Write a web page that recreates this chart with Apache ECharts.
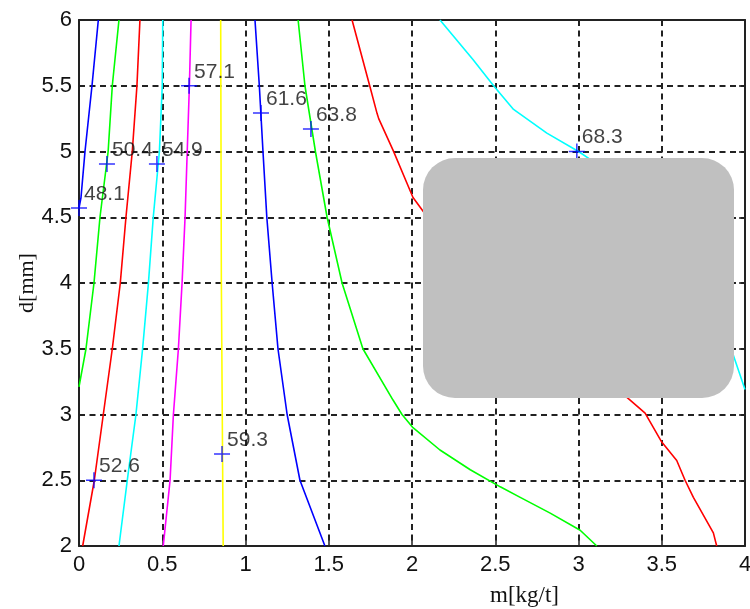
<!DOCTYPE html>
<html>
<head>
<meta charset="utf-8">
<script src="https://cdn.jsdelivr.net/npm/echarts@6/dist/echarts.min.js"></script>
<style>
  html, body { margin: 0; padding: 0; background: #ffffff; overflow: hidden; }
  #chart { width: 750px; height: 609px; }
</style>
</head>
<body>
<div id="chart"></div>
<script>
// Axis ranges and tick steps
const xRange = [0, 4];
const yRange = [2, 6];
const xStep = 0.5;
const yStep = 0.5;

// Contour levels, in drawing order
const levels = [48.1, 50.4, 52.6, 54.9, 57.1, 59.3, 61.6, 63.8, 66.0, 68.3];
const levelColors = ['#0000ff', '#00ff00', '#ff0000', '#00ffff', '#ff00ff', '#ffff00',
                     '#0000ff', '#00ff00', '#ff0000', '#00ffff'];

// Contour paths: [m, d] pairs for each level
const c48_1 = [[0.116, 6], [0.078, 5.5], [0.036, 5], [0.012, 4.65], [0, 4.57]];
const c50_4 = [[0.24, 6], [0.2, 5.5], [0.175, 5], [0.126, 4.5], [0.09, 4], [0.042, 3.5], [0, 3.21]];
const c52_6 = [[0.366, 6], [0.348, 5.5], [0.32, 5], [0.282, 4.5], [0.248, 4], [0.2, 3.5],
               [0.146, 3], [0.092, 2.5], [0.022, 2]];
const c54_9 = [[0.503, 6], [0.5, 5.5], [0.483, 5], [0.446, 4.5], [0.417, 4], [0.382, 3.5],
               [0.342, 3], [0.29, 2.5], [0.24, 2]];
const c57_1 = [[0.673, 6], [0.663, 5.5], [0.65, 5], [0.637, 4.5], [0.619, 4], [0.597, 3.5],
               [0.567, 3], [0.547, 2.5], [0.506, 2]];
const c59_3 = [[0.851, 6], [0.855, 4], [0.866, 2]];
const c61_6 = [[1.057, 6], [1.083, 5.5], [1.105, 5], [1.128, 4.5], [1.16, 4], [1.195, 3.5],
               [1.25, 3], [1.327, 2.5], [1.477, 2]];
const c63_8 = [[1.316, 6], [1.357, 5.5], [1.42, 5], [1.49, 4.5], [1.58, 4], [1.705, 3.5],
               [1.886, 3.11], [1.94, 3], [2.006, 2.9], [2.168, 2.73], [2.35, 2.58], [2.53, 2.45],
               [2.65, 2.37], [2.83, 2.25], [3.01, 2.12], [3.11, 2]];
const c66_0 = [[1.64, 6], [1.748, 5.49], [1.79, 5.29], [1.8, 5.25], [1.886, 5.01], [2.006, 4.65],
               [2.07, 4.54], [2.5, 4.0], [2.95, 3.5], [3.31, 3.11], [3.4, 3.01], [3.5, 2.79],
               [3.59, 2.65], [3.64, 2.5], [3.69, 2.37], [3.81, 2.1], [3.83, 2]];
const c68_3 = [[2.168, 6], [2.366, 5.7], [2.49, 5.5], [2.61, 5.32], [2.81, 5.14], [3.0, 5.0],
               [3.07, 4.94], [3.5, 4.3], [3.8, 3.75], [3.93, 3.45], [4.0, 3.19]];
const contours = [c48_1, c50_4, c52_6, c54_9, c57_1, c59_3, c61_6, c63_8, c66_0, c68_3];

// Inline label anchors (index into levels, m, d)
const labelLevel = [0, 1, 2, 3, 4, 5, 6, 7, 9];
const labelM = [0.0, 0.168, 0.09, 0.468, 0.661, 0.859, 1.093, 1.393, 2.99];
const labelD = [4.57, 4.905, 2.5, 4.905, 5.5, 2.70, 5.293, 5.171, 5.0];

const FONT = 'Liberation Sans, Arial, Helvetica, sans-serif';
const SERIF = 'Liberation Serif, Times New Roman, serif';
const INK = '#111111';

const chart = echarts.init(document.getElementById('chart'), null, { renderer: 'canvas', width: 750, height: 609 });

const gridLine = { show: true, lineStyle: { color: '#222222', width: 2, type: [6, 4.5] } };
const frameLine = { show: true, onZero: false, lineStyle: { color: '#222222', width: 2 } };
const innerTick = { show: true, inside: true, length: 6, lineStyle: { color: '#222222', width: 1.5 } };

const lineSeries = contours.map((pts, i) => ({
  type: 'line',
  name: String(levels[i]),
  data: pts,
  showSymbol: false,
  smooth: false,
  clip: true,
  lineStyle: { color: levelColors[i], width: 1.6 },
  itemStyle: { color: levelColors[i] },
  z: 3,
  animation: false
}));

const plusPath = 'path://M0,7.25H16V8.75H0Z M7.25,0H8.75V16H7.25Z';

const labelSeries = {
  type: 'scatter',
  data: labelM.map((m, i) => ({ value: [m, labelD[i]], name: levels[labelLevel[i]].toFixed(1) })),
  symbol: plusPath,
  symbolSize: 16,
  itemStyle: { color: '#0000ff' },
  label: {
    show: true,
    position: [13, -6],
    align: 'left',
    verticalAlign: 'middle',
    formatter: p => p.name,
    fontFamily: FONT,
    fontSize: 21,
    color: INK
  },
  z: 5,
  animation: false
};

chart.setOption({
  backgroundColor: '#ffffff',
  animation: false,
  grid: { left: 79, top: 20, right: 5, bottom: 63, containLabel: false, outerBoundsMode: 'none' },
  xAxis: [
    {
      type: 'value', position: 'bottom', min: xRange[0], max: xRange[1], interval: xStep,
      axisLine: frameLine, axisTick: innerTick, splitLine: gridLine,
      axisLabel: { fontFamily: FONT, fontSize: 22, color: INK, margin: 8 }
    },
    {
      type: 'value', position: 'top', min: xRange[0], max: xRange[1], interval: xStep,
      axisLine: frameLine, axisTick: innerTick, splitLine: { show: false },
      axisLabel: { show: false }
    }
  ],
  yAxis: [
    {
      type: 'value', position: 'left', min: yRange[0], max: yRange[1], interval: yStep,
      axisLine: frameLine, axisTick: innerTick, splitLine: gridLine,
      axisLabel: { fontFamily: FONT, fontSize: 22, color: INK, margin: 7 },
      name: 'd[mm]', nameLocation: 'middle', nameGap: 41, nameRotate: 90, nameMoveOverlap: false,
      nameTextStyle: { fontFamily: SERIF, fontSize: 22, color: INK }
    },
    {
      type: 'value', position: 'right', min: yRange[0], max: yRange[1], interval: yStep,
      axisLine: frameLine, axisTick: innerTick, splitLine: { show: false },
      axisLabel: { show: false }
    }
  ],
  graphic: [
    {
      type: 'text', left: 490, top: 584, z: 50,
      style: { text: 'm[kg/t]', fontFamily: SERIF, fontSize: 23, fill: INK }
    },
    {
      type: 'rect', z: 100,
      shape: { x: 423, y: 158, width: 311, height: 240, r: 32 },
      style: { fill: '#c0c0c0' }
    }
  ],
  series: [...lineSeries, labelSeries]
});
</script>
</body>
</html>
